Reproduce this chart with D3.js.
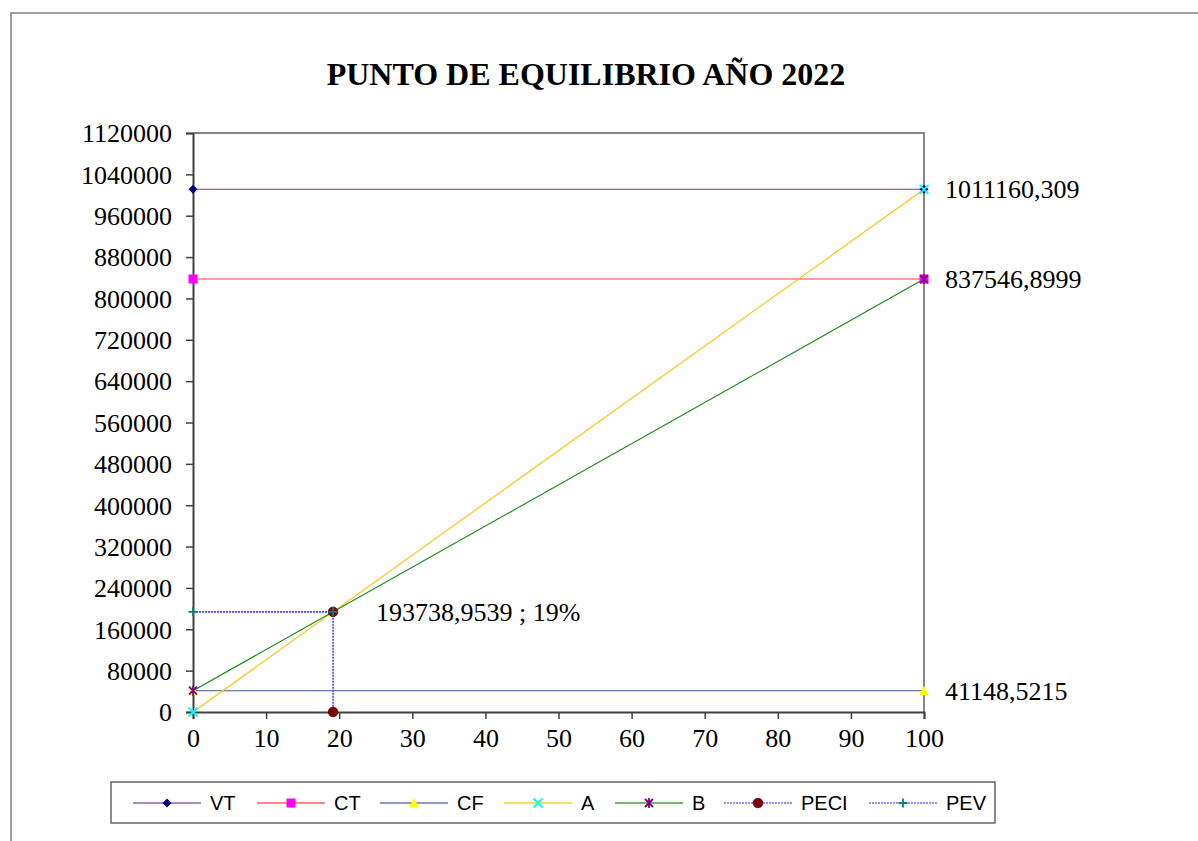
<!DOCTYPE html>
<html>
<head>
<meta charset="utf-8">
<script src="https://cdn.jsdelivr.net/npm/d3@7"></script>
<style>
  html, body { margin: 0; padding: 0; background: #fff; }
  svg { display: block; }
</style>
</head>
<body>
<div id="chart"></div>
<script>
// Chart values
const titleText = 'PUNTO DE EQUILIBRIO AÑO 2022';
const xTicks = [0, 10, 20, 30, 40, 50, 60, 70, 80, 90, 100];
const yTicks = [0, 80000, 160000, 240000, 320000, 400000, 480000, 560000, 640000, 720000, 800000, 880000, 960000, 1040000, 1120000];

const vtX = [0, 100],      vtY = [1011160.309, 1011160.309];
const ctX = [0, 100],      ctY = [837546.8999, 837546.8999];
const cfX = [0, 100],      cfY = [41148.5215, 41148.5215];
const aX = [0, 100],       aY = [0, 1011160.309];
const bX = [0, 100],       bY = [41148.5215, 837546.8999];
const peciX = [19.16, 19.16], peciY = [193738.9539, 0];
const pevX = [0, 19.16],   pevY = [193738.9539, 193738.9539];

// value labels: [series, point index, text]
const valueLabels = [
    ['VT', 1, '1011160,309'],
    ['CT', 1, '837546,8999'],
    ['CF', 1, '41148,5215'],
    ['PECI', 0, '193738,9539 ; 19%']
];

const W = 1198, H = 841;
const plot = { left: 193, top: 133, right: 924, bottom: 712 };

const series = [
    { name: 'VT', xs: vtX, ys: vtY, line: '#6a3aa8', marker: 'diamond', mcolor: '#000080' },
    { name: 'CT', xs: ctX, ys: ctY, line: '#ff3b3b', marker: 'square', mcolor: '#ff00ff' },
    { name: 'CF', xs: cfX, ys: cfY, line: '#3d5799', marker: 'triangle', mcolor: '#ffff00' },
    { name: 'A', xs: aX, ys: aY, line: '#ffc000', marker: 'x', mcolor: '#00ffff' },
    { name: 'B', xs: bX, ys: bY, line: '#118a11', marker: 'star', mcolor: '#800080' },
    { name: 'PECI', xs: peciX, ys: peciY, line: '#4545ff', dash: '2,1', marker: 'circle', mcolor: '#800000' },
    { name: 'PEV', xs: pevX, ys: pevY, line: '#4545ff', dash: '2,1', marker: 'plus', mcolor: '#008080' }
];

const svg = d3.select('#chart').append('svg')
    .attr('width', W)
    .attr('height', H);

// chart area border (runs off the right and bottom)
svg.append('rect')
    .attr('x', 11).attr('y', 13)
    .attr('width', W + 20).attr('height', H + 20)
    .attr('fill', 'none')
    .attr('stroke', '#808080')
    .attr('stroke-width', 1.5);

svg.append('text')
    .attr('x', 586).attr('y', 85)
    .attr('text-anchor', 'middle')
    .attr('font-family', '"Liberation Serif", "Times New Roman", serif')
    .attr('font-weight', 'bold')
    .attr('font-size', 32)
    .text(titleText);

const x = d3.scaleLinear().domain([0, 100]).range([plot.left, plot.right]);
const y = d3.scaleLinear().domain([0, 1120000]).range([plot.bottom, plot.top]);

// plot frame: top and right
svg.append('path')
    .attr('d', `M${plot.left},${plot.top}H${plot.right}V${plot.bottom}`)
    .attr('fill', 'none')
    .attr('stroke', '#868686')
    .attr('stroke-width', 2);

const yAxis = svg.append('g')
    .attr('transform', `translate(${plot.left},0)`)
    .call(d3.axisLeft(y).tickValues(yTicks).tickSize(7).tickPadding(14).tickFormat(d3.format('d')));
const xAxis = svg.append('g')
    .attr('transform', `translate(0,${plot.bottom})`)
    .call(d3.axisBottom(x).tickValues(xTicks).tickSize(7).tickPadding(10).tickFormat(d3.format('d')));

[yAxis, xAxis].forEach(g => {
    g.select('.domain').attr('stroke', '#404040').attr('stroke-width', 2);
    g.selectAll('.tick line').attr('stroke', '#404040').attr('stroke-width', 1.5);
    g.selectAll('.tick text')
        .attr('fill', '#000')
        .attr('font-family', '"Liberation Serif", "Times New Roman", serif')
        .attr('font-size', 26);
});
yAxis.selectAll('.tick text').attr('dy', '0.34em');

function markerPath(type) {
    switch (type) {
        case 'diamond': return 'M0,-4.5L4.5,0L0,4.5L-4.5,0Z';
        case 'square': return 'M-4.5,-4.5H4.5V4.5H-4.5Z';
        case 'triangle': return 'M0,-5L5,4.5H-5Z';
        case 'x': return 'M-4.5,-4.5L4.5,4.5M4.5,-4.5L-4.5,4.5';
        case 'star': return 'M-4,-4L4,4M4,-4L-4,4M0,-5V5';
        case 'plus': return 'M-4.5,0H4.5M0,-4.5V4.5';
        default: return null;
    }
}

function drawMarker(g, type, color, cx, cy) {
    if (type === 'circle') {
        g.append('circle').attr('cx', cx).attr('cy', cy).attr('r', 4.8)
            .attr('fill', color).attr('stroke', '#5a0000').attr('stroke-width', 0.8);
        return;
    }
    const stroked = (type === 'x' || type === 'star' || type === 'plus');
    g.append('path')
        .attr('d', markerPath(type))
        .attr('transform', `translate(${cx},${cy})`)
        .attr('fill', stroked ? 'none' : color)
        .attr('stroke', stroked ? color : 'none')
        .attr('stroke-width', stroked ? 1.8 : 0);
}

const lineGen = d3.line().x(d => x(d[0])).y(d => y(d[1]));

const linesG = svg.append('g');
series.forEach(s => {
    const pts = s.xs.map((v, i) => [v, s.ys[i]]);
    linesG.append('path')
        .datum(pts)
        .attr('d', lineGen)
        .attr('fill', 'none')
        .attr('stroke', s.line)
        .attr('stroke-width', s.dash ? 1.6 : 1.1)
        .attr('stroke-dasharray', s.dash || null);
});

const markG = svg.append('g');
series.forEach(s => {
    s.xs.forEach((v, i) => drawMarker(markG, s.marker, s.mcolor, x(v), y(s.ys[i])));
});

// data labels
valueLabels.forEach(([name, idx, txt]) => {
    const s = series.find(d => d.name === name);
    const px = x(s.xs[idx]), py = y(s.ys[idx]);
    svg.append('text')
        .attr('x', name === 'PECI' ? px + 43 : px + 21)
        .attr('y', py)
        .attr('dy', '0.34em')
        .attr('font-family', '"Liberation Serif", "Times New Roman", serif')
        .attr('font-size', 26)
        .attr('fill', '#000')
        .text(txt);
});

// legend
const legend = svg.append('g');
legend.append('rect')
    .attr('x', 111).attr('y', 782)
    .attr('width', 884).attr('height', 41)
    .attr('fill', '#fff')
    .attr('stroke', '#404040')
    .attr('stroke-width', 1.2);

const legendX = [133, 257, 380, 504, 615, 724, 869];
series.forEach((s, i) => {
    const lx = legendX[i], ly = 803;
    legend.append('line')
        .attr('x1', lx).attr('x2', lx + 68)
        .attr('y1', ly).attr('y2', ly)
        .attr('stroke', s.line)
        .attr('stroke-opacity', 0.6)
        .attr('stroke-width', 2)
        .attr('stroke-dasharray', s.dash || null);
    drawMarker(legend, s.marker, s.mcolor, lx + 34, ly);
    legend.append('text')
        .attr('x', lx + 77)
        .attr('y', ly)
        .attr('dy', '0.36em')
        .attr('font-family', '"Liberation Sans", Arial, sans-serif')
        .attr('font-size', 20)
        .attr('fill', '#000')
        .text(s.name);
});
</script>
</body>
</html>
